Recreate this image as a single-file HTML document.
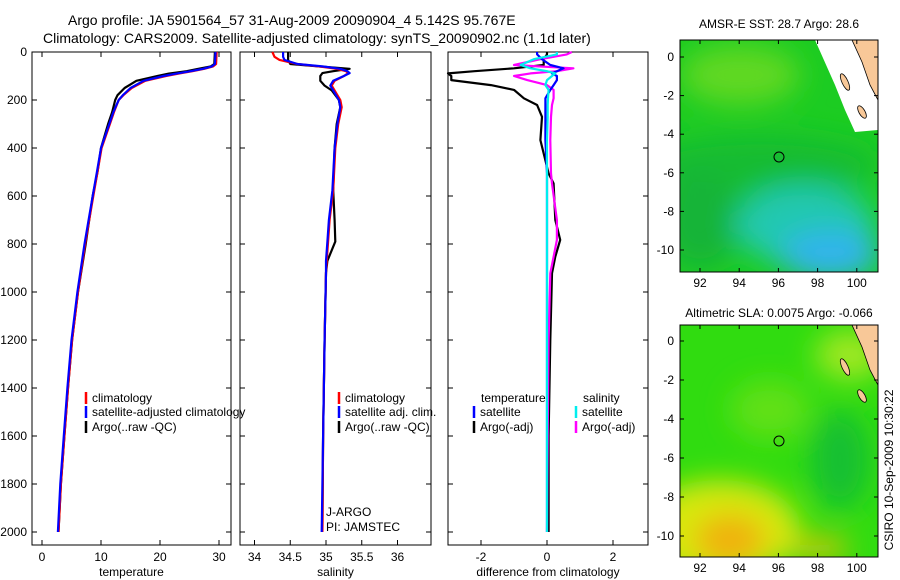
<!DOCTYPE html>
<html><head><meta charset="utf-8">
<style>
body{margin:0;background:#fff;}
svg{display:block;font-family:"Liberation Sans",sans-serif;}
</style></head>
<body>
<svg id="fig" width="900" height="580" viewBox="0 0 900 580">
<defs>
<filter id="blur" x="-20%" y="-20%" width="140%" height="140%"><feGaussianBlur stdDeviation="14"/></filter>
<clipPath id="cm1"><rect x="680" y="40" width="198" height="232"/></clipPath>
<clipPath id="cm2"><rect x="680" y="325" width="198" height="232"/></clipPath>
</defs>
<text x="68" y="25" font-size="14">Argo profile: JA 5901564_57 31-Aug-2009 20090904_4 5.142S 95.767E</text>
<text x="43" y="43" font-size="14">Climatology: CARS2009. Satellite-adjusted climatology: synTS_20090902.nc (1.1d later)</text>

<g>
<text x="779" y="28" font-size="12" text-anchor="middle">AMSR-E SST: 28.7 Argo: 28.6</text>
<g clip-path="url(#cm1)">
<rect x="680" y="40" width="198" height="232" fill="#1ccc22"/>
<g filter="url(#blur)">
<ellipse cx="740" cy="75" rx="60" ry="30" fill="#60d820"/>
<ellipse cx="760" cy="165" rx="120" ry="30" fill="#14bc30"/>
<ellipse cx="700" cy="220" rx="40" ry="50" fill="#18b438"/>
<ellipse cx="805" cy="225" rx="70" ry="40" fill="#20c8b0"/>
<ellipse cx="830" cy="255" rx="50" ry="25" fill="#30b4ec"/>
</g>
<polygon points="815,40 878,40 878,130 855,132 845,110 835,85" fill="#fff"/>
<polygon points="852,40 878,40 878,100 870,85 862,62" fill="#f8c898" stroke="#000" stroke-width="0.8"/>
<ellipse cx="845" cy="82" rx="3" ry="9" fill="#f8c898" stroke="#000" stroke-width="0.8" transform="rotate(-25 845 82)"/>
<ellipse cx="862" cy="112" rx="3" ry="7" fill="#f8c898" stroke="#000" stroke-width="0.8" transform="rotate(-30 862 112)"/>
</g>
<rect x="680" y="40" width="198" height="232" fill="none" stroke="#000"/>
<circle cx="779" cy="157" r="5" fill="none" stroke="#000"/>
</g>
<g>
<text x="779" y="317" font-size="12" text-anchor="middle">Altimetric SLA: 0.0075 Argo: -0.066</text>
<g clip-path="url(#cm2)">
<rect x="680" y="325" width="198" height="232" fill="#30dc10"/>
<g filter="url(#blur)">
<ellipse cx="720" cy="530" rx="80" ry="50" fill="#d8e810"/>
<ellipse cx="730" cy="540" rx="35" ry="25" fill="#f0b010"/>
<ellipse cx="820" cy="548" rx="30" ry="10" fill="#f0c010"/>
<ellipse cx="850" cy="355" rx="35" ry="25" fill="#a0e820"/>
<ellipse cx="840" cy="460" rx="30" ry="50" fill="#18c030"/>
<ellipse cx="770" cy="410" rx="40" ry="30" fill="#60e018"/>
</g>
<polygon points="852,325 878,325 878,385 870,370 862,347" fill="#f8c898" stroke="#000" stroke-width="0.8"/>
<ellipse cx="845" cy="367" rx="3" ry="9" fill="#f8c898" stroke="#000" stroke-width="0.8" transform="rotate(-25 845 367)"/>
<ellipse cx="862" cy="396" rx="3" ry="7" fill="#f8c898" stroke="#000" stroke-width="0.8" transform="rotate(-30 862 396)"/>
</g>
<rect x="680" y="325" width="198" height="232" fill="none" stroke="#000"/>
<circle cx="779" cy="441" r="5" fill="none" stroke="#000"/>
</g>
<text transform="translate(893,470) rotate(-90)" font-size="12" text-anchor="middle">CSIRO 10-Sep-2009 10:30:22</text>
<g id="dyn"></g>
</svg>
<script>
const depthT = [0,50,60,70,80,90,100,120,150,180,200,250,300,400,500,600,800,1000,1200,1400,1600,1800,2000];
const climT  = [29.6,29.5,29.0,27.5,25.5,23.2,21.0,17.5,15.2,13.8,13.0,12.2,11.5,10.1,9.4,8.7,7.3,6.1,5.1,4.4,3.8,3.2,2.8];
const satT   = [29.4,29.3,28.8,27.3,25.2,22.8,20.6,17.2,15.0,13.7,13.0,12.1,11.4,10.0,9.3,8.6,7.2,6.0,5.0,4.3,3.7,3.1,2.7];
const argoT  = [29.3,29.2,28.6,26.5,24.5,21.5,19.6,16.0,14.0,12.8,12.4,11.9,11.2,10.0,9.4,8.6,7.4,6.1,5.1,4.4,3.8,3.2,2.8];
const depthS = [0,20,33,50,60,70,80,88,100,120,140,160,200,230,300,400,576,700,790,870,920,1200,1600,2000];
const climS  = [34.25,34.28,34.35,34.6,34.9,35.15,35.28,35.31,35.25,35.12,35.08,35.12,35.2,35.22,35.17,35.13,35.1,35.05,35.03,35.01,35.0,34.98,34.96,34.95];
const satS   = [34.40,34.40,34.42,34.6,34.95,35.2,35.3,35.33,35.25,35.1,35.06,35.1,35.18,35.2,35.16,35.12,35.09,35.04,35.02,35.0,35.0,34.98,34.96,34.94];
const argoS  = [34.47,34.47,34.47,34.5,34.9,35.33,35.1,34.95,34.92,34.92,34.98,35.08,35.18,35.2,35.15,35.12,35.1,35.12,35.13,35.02,35.0,34.98,34.96,34.95];
const depthD = [0,10,30,54,68,80,89,100,117,138,158,193,221,270,367,506,548,700,783,853,922,1200,1600,2000];
const satTd  = [-0.3,-0.3,-0.15,0.1,0.5,0.3,0.15,0.3,0.3,0.2,0.1,-0.05,-0.05,-0.05,-0.05,0,0,0,0,0,0,0,0,0];
const argoTd = [0,0,-0.1,-0.1,-1.0,-2.2,-3.0,-2.9,-2.9,-1.7,-1.0,-0.7,-0.3,-0.15,-0.2,0.05,0.2,0.25,0.4,0.25,0.15,0.1,0.05,0.05];
const satSd  = [0.3,0.3,-0.4,-0.8,-0.5,0.0,0.25,0.15,0,-0.05,0.05,0.03,0.02,0.02,0,0,0,0,0,0,0,0,0,0];
const argoSd = [0.75,0.6,-0.2,-1.0,0.8,0.3,-0.5,-1.0,-0.6,0,0.2,0.2,0.15,0.12,0.1,0.12,0.15,0.3,0.3,0.2,0.1,0.05,0.02,0.0];
const depthTicks = [0,200,400,600,800,1000,1200,1400,1600,1800,2000];
const tTicks = [0,10,20,30];
const sTicks = [34,34.5,35,35.5,36];
const dTicks = [-2,0,2];
const lonTicks = [92,94,96,98,100];
const latTicks = [0,-2,-4,-6,-8,-10];

const NS='http://www.w3.org/2000/svg';
const dyn=document.getElementById('dyn');
function mk(tag,attrs,parent){const e=document.createElementNS(NS,tag);for(const k in attrs)e.setAttribute(k,attrs[k]);(parent||dyn).appendChild(e);return e;}
const yD=d=>52+d*0.24;
const panels=[
 {x0:32,x1:231,f:v=>42+v*5.9,ticks:tTicks,label:'temperature',name:'temperature-panel'},
 {x0:240,x1:431,f:v=>326+(v-35)*71.5,ticks:sTicks,label:'salinity',name:'salinity-panel'},
 {x0:448,x1:648,f:v=>547+v*33,ticks:dTicks,label:'difference from climatology',name:'difference-panel'}
];
panels.forEach((p,i)=>{
 const g=mk('g',{});
 
 
 const r=mk('rect',{x:p.x0,y:52,width:p.x1-p.x0,height:493,fill:'none',stroke:'#000'},g);
 
 
 p.ticks.forEach(t=>{
  const x=p.f(t);
  mk('line',{x1:x,x2:x,y1:52,y2:57,stroke:'#000'},g);
  mk('line',{x1:x,x2:x,y1:545,y2:540,stroke:'#000'},g);
  const tx=mk('text',{x:x,y:561,'font-size':12,'text-anchor':'middle'},g);
  tx.textContent=String(t);
  
  
 });
 depthTicks.forEach(d=>{
  const y=yD(d);
  mk('line',{x1:p.x0,x2:p.x0+5,y1:y,y2:y,stroke:'#000'},g);
  mk('line',{x1:p.x1,x2:p.x1-5,y1:y,y2:y,stroke:'#000'},g);
  if(i===0){const tx=mk('text',{x:27,y:y+4,'font-size':12,'text-anchor':'end'},g);tx.textContent=String(d);
   
   }
 });
 const xl=mk('text',{x:(p.x0+p.x1)/2,y:576,'font-size':12,'text-anchor':'middle'},g);
 xl.textContent=p.label;
 
 
});
function line(depths,vals,f,color,name){
 const pts=depths.map((d,i)=>f(vals[i]).toFixed(1)+','+yD(d).toFixed(1)).join(' ');
 const e=mk('polyline',{points:pts,fill:'none',stroke:color,'stroke-width':2.2,'stroke-linejoin':'round'});
 
 
}
line(depthT,argoT,panels[0].f,'#000','argo-temperature-line');
line(depthT,climT,panels[0].f,'#f00','clim-temperature-line');
line(depthT,satT,panels[0].f,'#00f','sat-temperature-line');
line(depthS,argoS,panels[1].f,'#000','argo-salinity-line');
line(depthS,climS,panels[1].f,'#f00','clim-salinity-line');
line(depthS,satS,panels[1].f,'#00f','sat-salinity-line');
line(depthD,argoTd,panels[2].f,'#000','argo-temp-diff-line');
line(depthD,argoSd,panels[2].f,'#f0f','argo-sal-diff-line');
line(depthD,satTd,panels[2].f,'#00f','sat-temp-diff-line');
line(depthD,satSd,panels[2].f,'#0ee','sat-sal-diff-line');

function legend(x,y,color,text,name){
 mk('line',{x1:x,x2:x,y1:y-10,y2:y+2,stroke:color,'stroke-width':2.5});
 const t=mk('text',{x:x+6,y:y,'font-size':12});
 t.textContent=text;
 
 
}
legend(86,402,'#f00','climatology','legend-climatology');
legend(86,416,'#00f','satellite-adjusted climatology','legend-satellite-adjusted');
legend(86,431,'#000','Argo(..raw -QC)','legend-argo');
legend(339,402,'#f00','climatology','legend-sal-climatology');
legend(339,416,'#00f','satellite adj. clim.','legend-sal-satellite');
legend(339,431,'#000','Argo(..raw -QC)','legend-sal-argo');
legend(474,416,'#00f','satellite','legend-diff-temp-satellite');
legend(474,431,'#000','Argo(-adj)','legend-diff-temp-argo');
legend(576,416,'#0ee','satellite','legend-diff-sal-satellite');
legend(576,431,'#f0f','Argo(-adj)','legend-diff-sal-argo');
[[481,402,'temperature','legend-header-temperature'],[583,402,'salinity','legend-header-salinity'],[326,516,'J-ARGO','j-argo-label'],[326,531,'PI: JAMSTEC','pi-label']].forEach(a=>{
 const t=mk('text',{x:a[0],y:a[1],'font-size':12});
 t.textContent=a[2];
 
 
});
[[40,272,57,250],[325,557,341,536]].forEach((m,mi)=>{
 lonTicks.forEach(lo=>{
  const x=700+(lo-92)*19.6;
  mk('line',{x1:x,x2:x,y1:m[0],y2:m[0]+4,stroke:'#000'});
  mk('line',{x1:x,x2:x,y1:m[1],y2:m[1]-4,stroke:'#000'});
  const t=mk('text',{x:x,y:m[1]+15,'font-size':12,'text-anchor':'middle'});
  t.textContent=String(lo);
  
  
 });
 latTicks.forEach(la=>{
  const y=m[2]+(-la)*(m[3]-m[2])/10;
  mk('line',{x1:680,x2:684,y1:y,y2:y,stroke:'#000'});
  mk('line',{x1:878,x2:874,y1:y,y2:y,stroke:'#000'});
  const t=mk('text',{x:674,y:y+4,'font-size':12,'text-anchor':'end'});
  t.textContent=String(la);
  
  
 });
});
</script>
</body></html>
